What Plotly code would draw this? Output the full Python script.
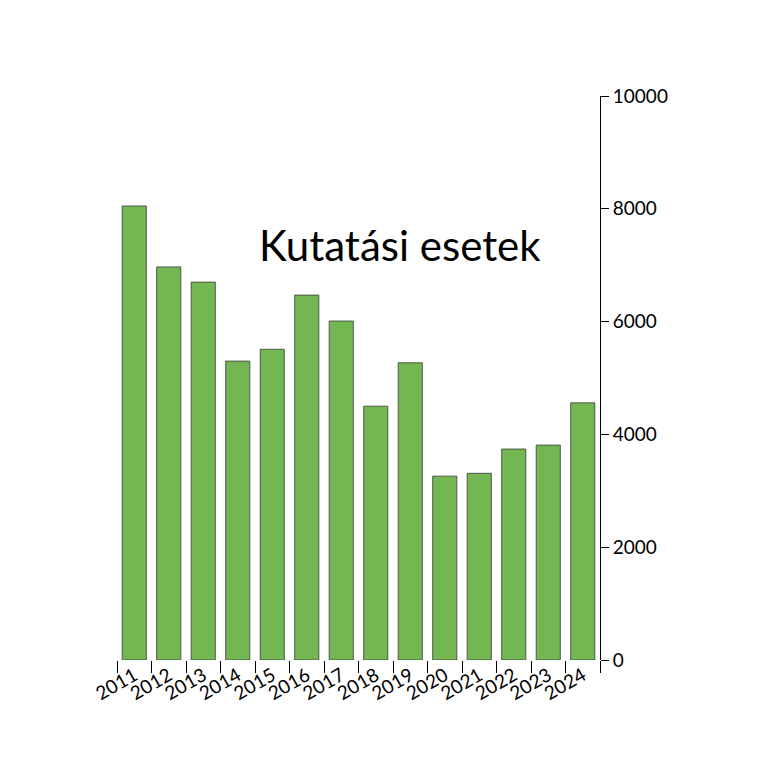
import plotly.graph_objects as go

years = ["2011","2012","2013","2014","2015","2016","2017","2018","2019","2020","2021","2022","2023","2024"]
cases = [8050, 6970, 6700, 5300, 5510, 6470, 6010, 4500, 5270, 3260, 3310, 3740, 3810, 4560]
y_ticks = [0, 2000, 4000, 6000, 8000, 10000]

fig = go.Figure(go.Bar(
    x=years, y=cases, width=0.7,
    marker=dict(color="#72b752", line=dict(color="#3a3a3a", width=0.8)),
))
fig.update_layout(
    width=768, height=768, plot_bgcolor="white", paper_bgcolor="white",
    margin=dict(l=109, r=176, t=88, b=116), showlegend=False,
    font=dict(family="Lato, Open Sans, sans-serif", color="black"),
    annotations=[dict(text="Kutatási esetek", x=0.586, y=0.736, xref="paper", yref="paper",
                      showarrow=False, font=dict(size=42), xanchor="center", yanchor="middle")],
)
fig.update_xaxes(type="category", range=[-0.5, 13.5], tickson="boundaries", ticks="outside",
                 ticklen=12, tickcolor="black", tickangle=-30, tickfont=dict(size=19),
                 showline=False, showgrid=False)
fig.update_yaxes(side="right", range=[0, 10000], tickvals=y_ticks, tickformat="d", ticks="outside", ticklen=8,
                 tickcolor="black", showline=True, linecolor="black", linewidth=1,
                 showgrid=False, zeroline=False, tickfont=dict(size=19))
fig.write_html("out.html")
